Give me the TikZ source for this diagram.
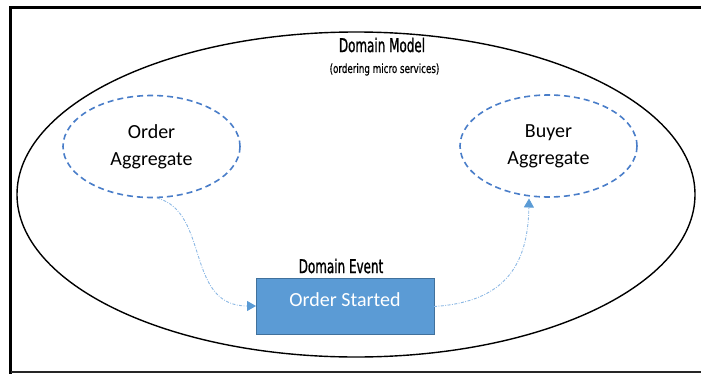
\documentclass[tikz,border=0pt]{standalone}
\usepackage{fontspec}
\setmainfont{Carlito}
\newfontfamily\agency[FakeStretch=0.63,FakeBold=1]{DejaVu Sans}
\newfontfamily\agencysmall[FakeStretch=0.7,FakeBold=0.6]{DejaVu Sans}
\usetikzlibrary{arrows.meta,shapes.geometric}
\definecolor{dashblue}{HTML}{4A7EC9}
\definecolor{boxblue}{HTML}{5B9BD5}
\definecolor{boxedge}{HTML}{41719C}
\definecolor{linkblue}{HTML}{8CB8E4}
\definecolor{tipblue}{HTML}{5B9BD5}
\tikzset{
  agg/.style={ellipse, draw=dashblue, line width=1.6pt, dash pattern=on 6pt off 4pt,
    minimum width=177pt, minimum height=102pt, align=center, font=\fontsize{20}{27}\selectfont, inner sep=0pt},
  evbox/.style={rectangle, draw=boxedge, line width=1pt, fill=boxblue, minimum width=178pt, minimum height=56pt, inner sep=0pt},
  link/.style={draw=linkblue, line width=0.9pt, dash pattern=on 3pt off 1.5pt on 0.8pt off 1.5pt,
    -{Triangle[length=9pt,width=10pt,fill=tipblue,color=tipblue]}},
  heading/.style={font=\agency\fontsize{19}{22}\selectfont, inner sep=0pt},
}
\begin{document}
\begin{tikzpicture}[x=1pt,y=-1pt]
\useasboundingbox (0,0) rectangle (701,375);
% frame
\draw[line width=3.5pt, line cap=rect] (10.5,372) -- (10.5,7.5) -- (705,7.5);
\draw[line width=2.2pt, color=black!85] (10.5,372) -- (705,372);
% domain model ellipse
\node[ellipse, draw, line width=1.4pt, minimum width=678pt, minimum height=325pt, inner sep=0pt] (dm) at (356,194.5) {};
\node[heading] (dmt) at (382,45) {Domain Model};
\node[font=\agencysmall\fontsize{12.5}{14}\selectfont, inner sep=0pt] (dms) at (384.5,69.5) {(ordering micro services)};
% aggregates
\node[agg] (oa) at (151.5,146.5) {Order\\Aggregate};
\node[agg] (ba) at (548.5,146) {Buyer\\Aggregate};
% domain event
\node[evbox] (ev) at (345,306) {};
\node[text=white, font=\fontsize{20}{24}\selectfont] (evt) at (345,300) {Order Started};
\node[heading] (evl) at (341,266) {Domain Event};
% connectors
\coordinate (s1) at (157,198);
\coordinate (e1) at (256,306);
\coordinate (s2) at (434,306.5);
\coordinate (e2) at (529,198.5);
\draw[link] (s1) .. controls (210,212) and (185,306) .. (e1);
\draw[link] (s2) .. controls (505,302) and (528,265) .. (e2);
\end{tikzpicture}
\end{document}
